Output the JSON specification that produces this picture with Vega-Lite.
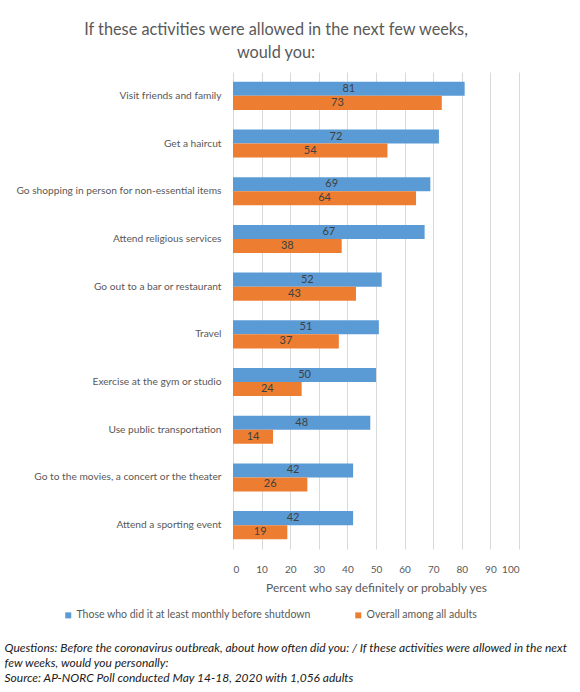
{
  "$schema": "https://vega.github.io/schema/vega-lite/v6.json",
  "width": 286,
  "height": 477,
  "autosize": {"type": "none"},
  "padding": {"left": 233, "top": 72, "right": 61, "bottom": 143},
  "background": "white",
  "config": {
    "font": "Lato",
    "view": {"stroke": null}
  },
  "title": {
    "text": ["If these activities were allowed in the next few weeks,", "would you:"],
    "anchor": "middle",
    "frame": "group",
    "dx": -100,
    "offset": 11,
    "fontSize": 16.3,
    "fontWeight": "normal",
    "color": "#595959",
    "lineHeight": 23
  },
  "data": {
    "values": [
      {"activity": "Visit friends and family", "group": "Those who did it at least monthly before shutdown", "value": 81},
      {"activity": "Visit friends and family", "group": "Overall among all adults", "value": 73},
      {"activity": "Get a haircut", "group": "Those who did it at least monthly before shutdown", "value": 72},
      {"activity": "Get a haircut", "group": "Overall among all adults", "value": 54},
      {"activity": "Go shopping in person for non-essential items", "group": "Those who did it at least monthly before shutdown", "value": 69},
      {"activity": "Go shopping in person for non-essential items", "group": "Overall among all adults", "value": 64},
      {"activity": "Attend religious services", "group": "Those who did it at least monthly before shutdown", "value": 67},
      {"activity": "Attend religious services", "group": "Overall among all adults", "value": 38},
      {"activity": "Go out to a bar or restaurant", "group": "Those who did it at least monthly before shutdown", "value": 52},
      {"activity": "Go out to a bar or restaurant", "group": "Overall among all adults", "value": 43},
      {"activity": "Travel", "group": "Those who did it at least monthly before shutdown", "value": 51},
      {"activity": "Travel", "group": "Overall among all adults", "value": 37},
      {"activity": "Exercise at the gym or studio", "group": "Those who did it at least monthly before shutdown", "value": 50},
      {"activity": "Exercise at the gym or studio", "group": "Overall among all adults", "value": 24},
      {"activity": "Use public transportation", "group": "Those who did it at least monthly before shutdown", "value": 48},
      {"activity": "Use public transportation", "group": "Overall among all adults", "value": 14},
      {"activity": "Go to the movies, a concert or the theater", "group": "Those who did it at least monthly before shutdown", "value": 42},
      {"activity": "Go to the movies, a concert or the theater", "group": "Overall among all adults", "value": 26},
      {"activity": "Attend a sporting event", "group": "Those who did it at least monthly before shutdown", "value": 42},
      {"activity": "Attend a sporting event", "group": "Overall among all adults", "value": 19}
    ]
  },
  "layer": [
    {
      "mark": {"type": "bar"},
      "encoding": {
        "y": {
          "field": "activity",
          "type": "nominal",
          "sort": null,
          "scale": {"paddingInner": 0.41, "paddingOuter": 0.205},
          "axis": {
            "title": ["Questions: Before the coronavirus outbreak, about how often did you: / If these activities were allowed in the next", "few weeks, would you personally:", "Source: AP-NORC Poll conducted May 14-18, 2020 with 1,056 adults"],
            "titleAngle": 0,
            "titleAlign": "left",
            "titleBaseline": "top",
            "titleX": -229,
            "titleY": 570,
            "titleFontSize": 12,
            "titleFontStyle": "italic",
            "titleFontWeight": "normal",
            "titleColor": "#1a1a1a",
            "titleLineHeight": 15,
            "domain": false,
            "ticks": false,
            "labelPadding": 12,
            "labelFontSize": 10.2,
            "labelColor": "#595959",
            "labelLimit": 300
          }
        },
        "yOffset": {
          "field": "group",
          "type": "nominal",
          "scale": {"domain": ["Those who did it at least monthly before shutdown", "Overall among all adults"], "paddingInner": 0, "paddingOuter": 0}
        },
        "x": {
          "field": "value",
          "type": "quantitative",
          "scale": {"domain": [0, 100], "nice": false},
          "axis": {
            "title": "Percent who say definitely or probably yes",
            "values": [0, 10, 20, 30, 40, 50, 60, 70, 80, 90, 100],
            "grid": true,
            "gridColor": "#d9d9d9",
            "domain": false,
            "ticks": false,
            "labelPadding": 15,
            "labelFontSize": 10,
            "labelColor": "#595959",
            "titleFontSize": 12,
            "titleFontWeight": "normal",
            "titleColor": "#595959",
            "titlePadding": 8
          }
        },
        "color": {
          "field": "group",
          "type": "nominal",
          "scale": {"domain": ["Those who did it at least monthly before shutdown", "Overall among all adults"], "range": ["#5B9BD5", "#ED7D31"]},
          "legend": {
            "title": null,
            "orient": "none",
            "direction": "horizontal",
            "legendX": -170,
            "legendY": 538,
            "symbolType": "square",
            "symbolSize": 36,
            "symbolStrokeWidth": 0,
            "symbolOpacity": 1,
            "labelFontSize": 10.5,
            "labelColor": "#595959",
            "labelLimit": 400,
            "columnPadding": 42,
            "labelOffset": 3
          }
        }
      }
    },
    {
      "mark": {"type": "text", "fontSize": 11, "color": "#404040", "align": "center", "baseline": "middle"},
      "encoding": {
        "y": {"field": "activity", "type": "nominal", "sort": null},
        "yOffset": {"field": "group", "type": "nominal"},
        "x": {"field": "value", "type": "quantitative", "scale": {"domain": [0, 200], "nice": false}, "axis": null},
        "text": {"field": "value", "type": "quantitative"}
      }
    }
  ],
  "resolve": {"scale": {"x": "independent"}}
}
